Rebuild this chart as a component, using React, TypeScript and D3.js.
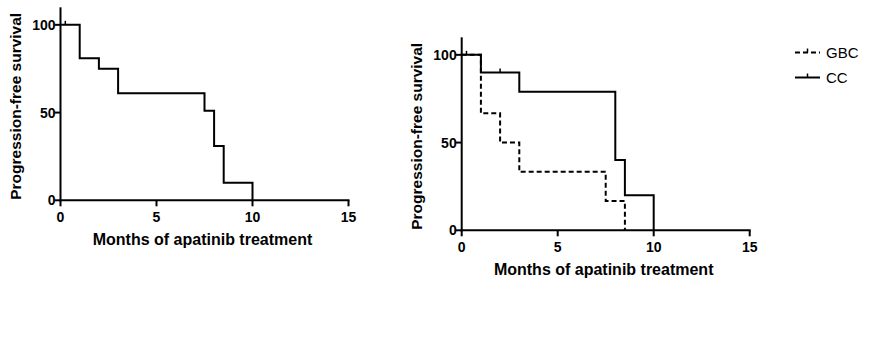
import { useEffect, useRef } from 'react';
import * as d3 from 'd3';

// Left panel: all patients
const allTimes = [0, 1, 2, 3, 7.5, 8, 8.5, 10];
const allSurv = [100, 81, 75, 61, 51, 31, 10, 0];
const allCensor = [0.25];

// Right panel: GBC vs CC
const gbcTimes = [0, 1, 2, 3, 7.5, 8.5];
const gbcSurv = [100, 66.7, 50, 33.3, 16.7, 0];
const ccTimes = [0, 1, 3, 8, 8.5, 10];
const ccSurv = [100, 90, 79, 40, 20, 0];
const ccCensor = [0.25, 2];

const xTicks = [0, 5, 10, 15];
const yTicks = [0, 50, 100];
const legendLabels = ['GBC', 'CC'];

const FONT = 'Liberation Sans, Arial, sans-serif';

function drawPanel(svg: any, ox: number, oy: number, series: { t: number[]; s: number[]; c: number[]; dash?: string }[]) {
  const x = d3.scaleLinear().domain([0, 15]).range([ox, ox + 288]);
  const y = d3.scaleLinear().domain([0, 110]).range([oy + 193, oy]);
  const g = svg.append('g');

  // axes
  g.append('line')
    .attr('x1', x(0)).attr('x2', x(0))
    .attr('y1', y(110)).attr('y2', y(0) + 1)
    .attr('stroke', '#000').attr('stroke-width', 2);
  g.append('line')
    .attr('x1', x(0) - 1).attr('x2', x(15) + 1)
    .attr('y1', y(0)).attr('y2', y(0))
    .attr('stroke', '#000').attr('stroke-width', 2);

  xTicks.forEach(v => {
    g.append('line')
      .attr('x1', x(v)).attr('x2', x(v))
      .attr('y1', y(0)).attr('y2', y(0) + 6)
      .attr('stroke', '#000').attr('stroke-width', 2);
    g.append('text')
      .attr('x', x(v)).attr('y', y(0) + 22)
      .attr('text-anchor', 'middle')
      .attr('font-family', FONT).attr('font-weight', 700).attr('font-size', 14)
      .text(v);
  });
  yTicks.forEach(v => {
    g.append('line')
      .attr('x1', x(0) - 6).attr('x2', x(0))
      .attr('y1', y(v)).attr('y2', y(v))
      .attr('stroke', '#000').attr('stroke-width', 2);
    g.append('text')
      .attr('x', x(0) - 5).attr('y', y(v) + 5)
      .attr('text-anchor', 'end')
      .attr('font-family', FONT).attr('font-weight', 700).attr('font-size', 14)
      .text(v);
  });

  g.append('text')
    .attr('x', x(7.5) - 2).attr('y', y(0) + 45)
    .attr('text-anchor', 'middle')
    .attr('font-family', FONT).attr('font-weight', 700).attr('font-size', 16)
    .text('Months of apatinib treatment');
  g.append('text')
    .attr('transform', `translate(${ox - 40},${oy + 99}) rotate(-90)`)
    .attr('text-anchor', 'middle')
    .attr('font-family', FONT).attr('font-weight', 700).attr('font-size', 15.5)
    .text('Progression-free survival');

  const line = d3.line<[number, number]>()
    .x(d => x(d[0])).y(d => y(d[1]))
    .curve(d3.curveStepAfter);

  series.forEach(sr => {
    const pts: [number, number][] = sr.t.map((t, i) => [t, sr.s[i]]);
    g.append('path')
      .attr('d', line(pts))
      .attr('fill', 'none')
      .attr('stroke', '#000')
      .attr('stroke-width', 2)
      .attr('stroke-dasharray', sr.dash ?? null);
    sr.c.forEach(ct => {
      const i = d3.bisectRight(sr.t, ct) - 1;
      g.append('line')
        .attr('x1', x(ct)).attr('x2', x(ct))
        .attr('y1', y(sr.s[i]) - 4).attr('y2', y(sr.s[i]))
        .attr('stroke', '#000').attr('stroke-width', 1.5);
    });
  });
  return g;
}

export default function App() {
  const ref = useRef<SVGSVGElement>(null);
  useEffect(() => {
    if (!ref.current) return;
    const svg = d3.select(ref.current);
    svg.selectAll('*').remove();
    svg.append('rect').attr('width', 874).attr('height', 352).attr('fill', '#fff');

    drawPanel(svg, 60.5, 7.3, [{ t: allTimes, s: allSurv, c: allCensor }]);
    drawPanel(svg, 461.7, 37.3, [
      { t: gbcTimes, s: gbcSurv, c: [], dash: '5,3' },
      { t: ccTimes, s: ccSurv, c: ccCensor },
    ]);

    // legend
    const lg = svg.append('g');
    legendLabels.forEach((lab, i) => {
      const ly = 52.5 + i * 25;
      lg.append('line')
        .attr('x1', 795).attr('x2', 820)
        .attr('y1', ly).attr('y2', ly)
        .attr('stroke', '#000').attr('stroke-width', 2)
        .attr('stroke-dasharray', i === 0 ? '5,3' : null);
      lg.append('line')
        .attr('x1', 807.5).attr('x2', 807.5)
        .attr('y1', ly - 4).attr('y2', ly)
        .attr('stroke', '#000').attr('stroke-width', 1.5);
      lg.append('text')
        .attr('x', 826).attr('y', ly + 5.5)
        .attr('font-family', FONT).attr('font-size', 15)
        .text(lab);
    });
  }, []);

  return (
    <svg
      ref={ref}
      width={874}
      height={352}
      style={{ position: 'absolute', left: 0, top: 0 }}
    />
  );
}
